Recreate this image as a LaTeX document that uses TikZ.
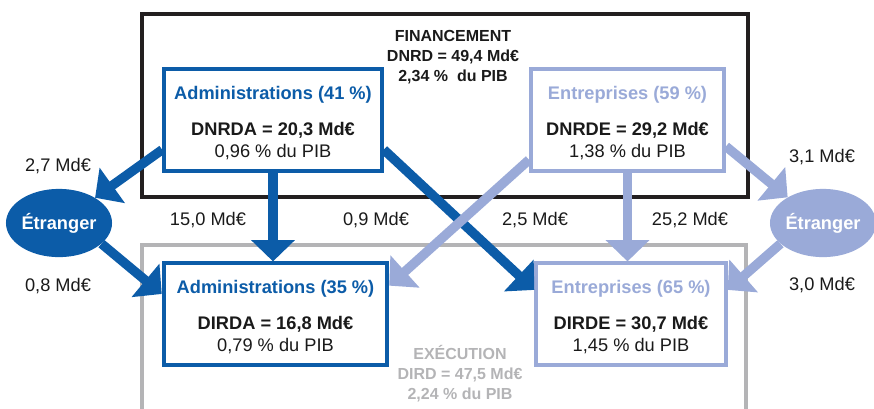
\documentclass[tikz,border=0pt]{standalone}
\usepackage{fontspec}
\setmainfont{Liberation Sans}
\usetikzlibrary{arrows.meta,shapes.geometric,calc}
\definecolor{admblue}{HTML}{0C5CA8}
\definecolor{entblue}{HTML}{9AAAD8}
\definecolor{framedark}{HTML}{231F20}
\definecolor{framegray}{HTML}{B4B4B6}
\definecolor{textdark}{HTML}{1A1A1A}
\tikzset{
  frame/.style={line width=3.4pt},
  sector/.style={
    rectangle, draw, fill=white, line width=3.4pt, align=center,
    minimum height=86pt, inner sep=0pt,
    font=\fontsize{15.5}{19.2}\selectfont, text=textdark
  },
  abroad/.style={
    ellipse, inner sep=0pt, minimum width=83pt, minimum height=58pt,
    font=\fontsize{15.5}{18.7}\selectfont\bfseries, text=white
  },
  flow/.style={-{Triangle[length=18pt,width=36pt]}, line width=8pt},
  amount/.style={font=\fontsize{15.5}{18.7}\selectfont, text=textdark},
  header/.style={font=\fontsize{13.6}{17}\selectfont\bfseries, align=center}
}
\newcommand{\boxtitle}[2]{\rule{0pt}{17pt}\textcolor{#1}{\bfseries #2}\\[11pt]}

\begin{document}
\begin{tikzpicture}[x=0.85pt,y=-0.85pt]
\useasboundingbox (0,0) rectangle (874,408);
% financement / execution frames
\draw[frame, draw=framedark] (142,14) rectangle (748,197);
\draw[frame, draw=framegray] (142,245) rectangle (746,430);
\node[header, text=textdark] (fin) at (453,57) {FINANCEMENT\\DNRD = 49,4 Md€\\2,34 \%\ \ du PIB};
\node[header, text=framegray] (exe) at (460,374) {EXÉCUTION\\DIRD = 47,5 Md€\\2,24 \% du PIB};
% sectors
\node[sector, draw=admblue, minimum width=185pt] (admf) at (273,120)
  {\boxtitle{admblue}{Administrations (41 \%)}{\bfseries DNRDA = 20,3 Md€}\\0,96 \% du PIB};
\node[sector, draw=entblue, minimum width=164pt] (entf) at (627.5,120)
  {\boxtitle{entblue}{Entreprises (59 \%)}{\bfseries DNRDE = 29,2 Md€}\\1,38 \% du PIB};
\node[sector, draw=admblue, minimum width=190pt] (admx) at (275.5,314)
  {\boxtitle{admblue}{Administrations (35 \%)}{\bfseries DIRDA = 16,8 Md€}\\0,79 \% du PIB};
\node[sector, draw=entblue, minimum width=161pt] (entx) at (631,314)
  {\boxtitle{entblue}{Entreprises (65 \%)}{\bfseries DIRDE = 30,7 Md€}\\1,45 \% du PIB};
\node[abroad, fill=admblue] (etrl) at (59,223) {Étranger};
\node[abroad, fill=entblue] (etrr) at (823,223) {Étranger};
% flows
\draw[flow, admblue] (admf.195) -- (etrl.35);
\draw[flow, admblue] (etrl.334) -- (admx.170);
\draw[flow, admblue] (admf.south) -- (admf.south |- admx.north);
\draw[flow, admblue] (admf.345) -- (entx.166);
\draw[flow, entblue] (entf.202) -- (admx.14);
\draw[flow, entblue] (entf.south) -- (entf.south |- entx.north);
\draw[flow, entblue] (entf.345) -- (etrr.144);
\draw[flow, entblue] (etrr.206) -- (entx.14);
% amounts
\node[amount] (a27) at (58,166) {2,7 Md€};
\node[amount] (a08) at (58,286) {0,8 Md€};
\node[amount] (a150) at (208,220) {15,0 Md€};
\node[amount] (a09) at (376,220) {0,9 Md€};
\node[amount] (a25) at (535,220) {2,5 Md€};
\node[amount] (a252) at (690,220) {25,2 Md€};
\node[amount] (a31) at (822,157) {3,1 Md€};
\node[amount] (a30) at (822,285) {3,0 Md€};
\end{tikzpicture}
\end{document}
